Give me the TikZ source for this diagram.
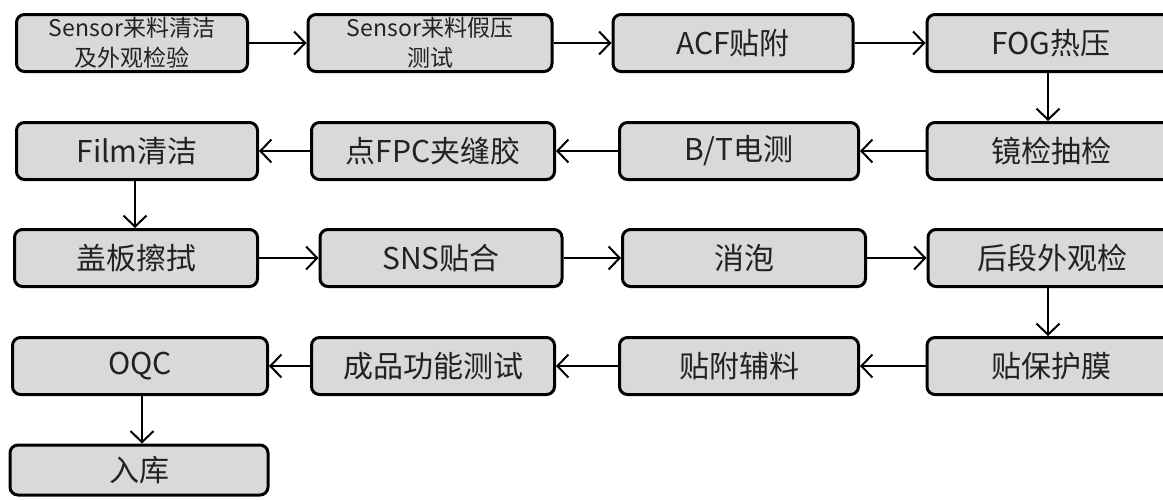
\documentclass[tikz,border=0pt]{standalone}
\usepackage{fontspec}
\newfontfamily\cjk{Noto Sans CJK SC}
\usetikzlibrary{arrows.meta}
\definecolor{boxgray}{HTML}{D9D9D9}
\definecolor{txtgray}{HTML}{222222}
\tikzset{Flow/.style={->, >={Straight Barb[length=11pt,width=23pt]}, line width=2pt}}

\begin{document}
\begin{tikzpicture}[x=1pt, y=-1pt, Step/.style={rectangle, rounded corners=8pt, draw=black, fill=boxgray, text=txtgray, line width=3pt, inner sep=0pt, minimum width=#1, minimum height=57pt, align=center, font=\cjk\fontsize{30}{34}\selectfont}, Step/.default=243pt]
        \clip (0,0) rectangle (1163,499);
        \node[Step=231pt, font=\cjk\fontsize{23}{30}\selectfont] (clean) at (132,43) {Sensor来料清洁\\及外观检验};
        \node[Step=244pt, font=\cjk\fontsize{23}{30}\selectfont] (fake) at (430,43) {Sensor来料假压\\测试};
        \node[Step=240pt] (acf) at (733,43) {ACF贴附};
        \node[Step=248pt] (fog) at (1051,43) {FOG热压};

        \node[Step=241pt] (film) at (137,151) {Film清洁};
        \node[Step] (fpc) at (433,151) {点FPC夹缝胶};
        \node[Step=239pt] (bt) at (739,151) {B/T电测};
        \node[Step=248pt] (mirror) at (1051,151) {镜检抽检};

        \node[Step] (wipe) at (136,258) {盖板擦拭};
        \node[Step=242pt] (sns) at (441,258) {SNS贴合};
        \node[Step] (bubble) at (744,258) {消泡};
        \node[Step=248pt] (look) at (1052,258) {后段外观检};

        \node[Step=255pt] (oqc) at (140,366) {OQC};
        \node[Step] (func) at (433,366) {成品功能测试};
        \node[Step=239pt] (aux) at (739,366) {贴附辅料};
        \node[Step=248pt] (film2) at (1051,366) {贴保护膜};

        \node[Step=258pt, minimum height=50pt] (store) at (139,470) {入库};

        \draw[Flow] (clean) -- (fake);
        \draw[Flow] (fake) -- (acf);
        \draw[Flow] (acf) -- (fog);
        \draw[Flow] (fog.south -| 1048,0) -- (mirror.north -| 1048,0);
        \draw[Flow] (mirror) -- (bt);
        \draw[Flow] (bt) -- (fpc);
        \draw[Flow] (fpc) -- (film);
        \draw[Flow] (film.south -| 135,0) -- (wipe.north -| 135,0);
        \draw[Flow] (wipe) -- (sns);
        \draw[Flow] (sns) -- (bubble);
        \draw[Flow] (bubble) -- (look);
        \draw[Flow] (look.south -| 1048,0) -- (film2.north -| 1048,0);
        \draw[Flow] (film2) -- (aux);
        \draw[Flow] (aux) -- (func);
        \draw[Flow] (func) -- (oqc);
        \draw[Flow] (oqc.south -| 142,0) -- (store.north -| 142,0);
    \end{tikzpicture}
\end{document}
